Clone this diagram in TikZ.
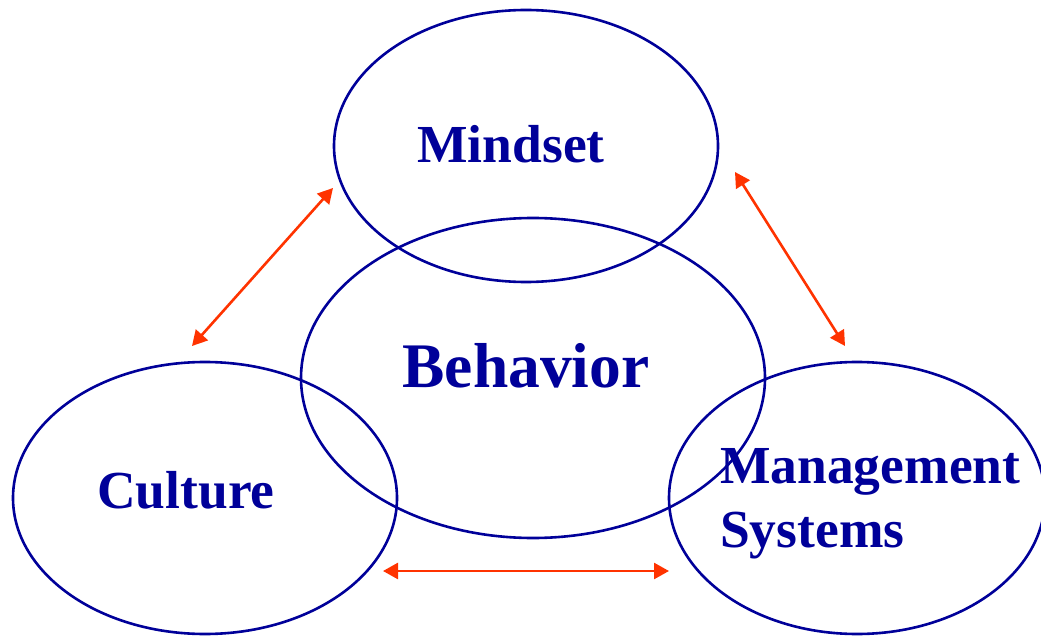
\documentclass[tikz,border=0pt]{standalone}
\usepackage{fontspec}
\setmainfont{Liberation Serif}
\usetikzlibrary{arrows.meta}
\definecolor{ellblue}{HTML}{000099}
\definecolor{arrred}{HTML}{FF3300}
\tikzset{
  ell/.style={draw=ellblue, line width=2.6pt},
  lab/.style={text=ellblue, font=\bfseries\fontsize{53.5}{62}\selectfont, anchor=base, inner sep=0pt},
  link/.style={draw=arrred, line width=2.6pt, {Triangle[length=15pt,width=16pt]}-{Triangle[length=15pt,width=16pt]}}
}
\begin{document}
\begin{tikzpicture}[x=1pt,y=-1pt]
\useasboundingbox (0,0) rectangle (1041,636);
\draw[ell] (526,146) ellipse[x radius=192, y radius=136];
\draw[ell] (533,378) ellipse[x radius=232, y radius=160];
\draw[ell] (205,498) ellipse[x radius=192, y radius=136];
\draw[ell] (857,498) ellipse[x radius=188, y radius=136];
\node[lab] (mind) at (511,163) {Mindset};
\node[lab, font=\bfseries\fontsize{63.5}{70}\selectfont] (beh) at (526,387) {Behavior};
\node[lab] (cult) at (186,508) {Culture};
\node[lab, anchor=base west] (mgmt) at (720,483) {Management};
\node[lab, anchor=base west] (sys) at (720,547) {Systems};
\coordinate (a1) at (333,188);
\coordinate (a2) at (192,346);
\coordinate (b1) at (735,172);
\coordinate (b2) at (845,346);
\coordinate (c1) at (383,571);
\coordinate (c2) at (669,571);
\draw[link] (a1) -- (a2);
\draw[link] (b1) -- (b2);
\draw[link] (c1) -- (c2);
\end{tikzpicture}
\end{document}
